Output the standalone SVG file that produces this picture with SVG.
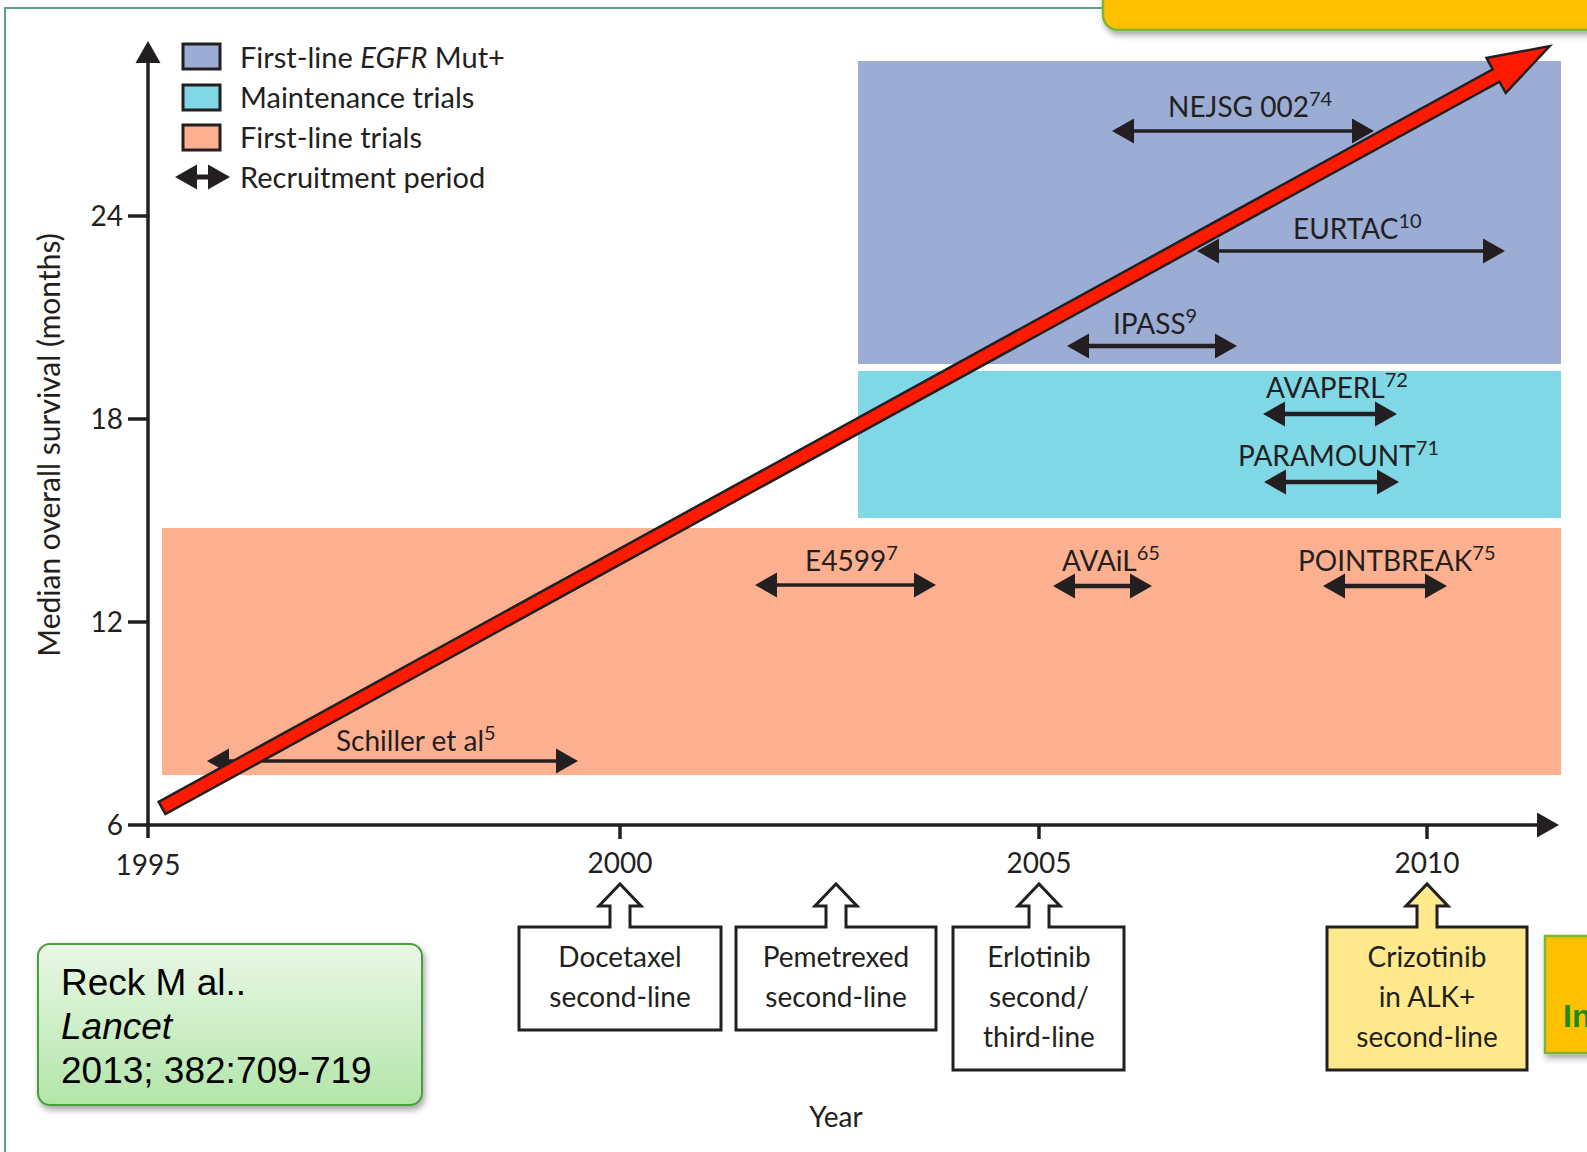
<svg xmlns="http://www.w3.org/2000/svg" width="1587" height="1152" viewBox="0 0 1587 1152">
<defs>
<style>
.t{font-family:Lato,"Open Sans","Liberation Sans",sans-serif;font-size:28px;fill:#231f20}
.lg{font-size:29px}
.yl{font-size:30px}
.c{text-anchor:middle}
.e{text-anchor:end}
.sup{font-size:20px}
.ax{stroke:#231f20;stroke-width:3.5;fill:none}
.ra{stroke:#231f20;stroke-width:3.5;fill:none;marker-start:url(#ah);marker-end:url(#ah)}
.rb{stroke:#231f20;stroke-width:4.5;fill:none;marker-start:url(#ah);marker-end:url(#ah)}
.sw{stroke:#231f20;stroke-width:3}
.bx{stroke:#231f20;stroke-width:3;fill:#ffffff}
.cite{font-family:"Liberation Sans",Arial,sans-serif;font-size:37px;fill:#000}
</style>
<marker id="ah" markerUnits="userSpaceOnUse" markerWidth="24" markerHeight="26" viewBox="0 -13 24 26" refX="0" refY="0" orient="auto-start-reverse">
<path d="M0,-12.5 L22,0 L0,12.5Z" fill="#231f20"/>
</marker>
<linearGradient id="gg" x1="0" y1="0" x2="0" y2="1">
<stop offset="0" stop-color="#eaf8e6"/>
<stop offset="1" stop-color="#b2e5a9"/>
</linearGradient>
<filter id="sh" x="-10%" y="-20%" width="130%" height="150%">
<feDropShadow dx="2" dy="4" stdDeviation="3" flood-color="#000" flood-opacity="0.35"/>
</filter>
</defs>
<rect width="1587" height="1152" fill="#ffffff"/>

<g id="frame">
<path d="M5,1152 L5,8 L1110,8" stroke="#5f9f86" stroke-width="2" fill="none"/>
</g>

<g id="top-banner">
<rect x="1103" y="-30" width="520" height="60" rx="15" fill="#ffc000" stroke="#7db23a" stroke-width="2.5" filter="url(#sh)"/>
</g>

<g id="band-egfr"><rect x="858" y="61" width="703" height="303" fill="#9badd4"/></g>
<g id="band-maintenance"><rect x="858" y="371" width="703" height="147" fill="#80d8e6"/></g>
<g id="band-firstline"><rect x="162" y="528" width="1399" height="247" fill="#fdb08f"/></g>

<g id="legend">
<rect class="sw" x="183" y="44" width="37" height="25" fill="#9badd4"/>
<rect class="sw" x="183" y="85" width="37" height="25" fill="#80d8e6"/>
<rect class="sw" x="183" y="125" width="37" height="25" fill="#fdb08f"/>
<line x1="197" y1="177" x2="208" y2="177" stroke="#231f20" stroke-width="5" marker-start="url(#ah)" marker-end="url(#ah)"/>
<text class="t lg" x="240" y="68">First-line <tspan font-style="italic">EGFR</tspan> Mut+</text>
<text class="t lg" x="240" y="108">Maintenance trials</text>
<text class="t lg" x="240" y="148">First-line trials</text>
<text class="t lg" x="240" y="188">Recruitment period</text>
</g>

<g id="axes">
<line class="ax" x1="148" y1="838" x2="148" y2="63" marker-end="url(#ah)"/>
<line class="ax" x1="128" y1="825" x2="1537" y2="825" marker-end="url(#ah)"/>
<line class="ax" x1="128" y1="216" x2="148" y2="216"/>
<line class="ax" x1="128" y1="419" x2="148" y2="419"/>
<line class="ax" x1="128" y1="622" x2="148" y2="622"/>
<line class="ax" x1="620" y1="825" x2="620" y2="839"/>
<line class="ax" x1="1039" y1="825" x2="1039" y2="839"/>
<line class="ax" x1="1427" y1="825" x2="1427" y2="839"/>
<text class="t e" x="123" y="226">24</text>
<text class="t e" x="123" y="429">18</text>
<text class="t e" x="123" y="632">12</text>
<text class="t e" x="123" y="835">6</text>
<text class="t c" x="148" y="875">1995</text>
<text class="t c" x="620" y="873">2000</text>
<text class="t c" x="1039" y="873">2005</text>
<text class="t c" x="1427" y="873">2010</text>
<text class="t c" x="836" y="1127">Year</text>
<text class="t c yl" transform="translate(60,445) rotate(-90)">Median overall survival (months)</text>
</g>

<g id="trial-labels">
<text class="t" x="1168" y="117">NEJSG 002<tspan class="sup" dy="-11">74</tspan></text>
<text class="t" x="1293" y="239">EURTAC<tspan class="sup" dy="-11">10</tspan></text>
<text class="t" x="1113" y="334">IPASS<tspan class="sup" dy="-11">9</tspan></text>
<text class="t" x="1266" y="398">AVAPERL<tspan class="sup" dy="-11">72</tspan></text>
<text class="t" x="1238" y="466">PARAMOUNT<tspan class="sup" dy="-11">71</tspan></text>
<text class="t" x="805" y="571">E4599<tspan class="sup" dy="-11">7</tspan></text>
<text class="t" x="1062" y="571">AVAiL<tspan class="sup" dy="-11">65</tspan></text>
<text class="t" x="1298" y="571">POINTBREAK<tspan class="sup" dy="-11">75</tspan></text>
<text class="t" x="336" y="751">Schiller et al<tspan class="sup" dy="-11">5</tspan></text>
</g>

<g id="connectors">
<line class="ra" x1="1134" y1="131" x2="1352" y2="131"/>
<line class="ra" x1="1219" y1="251" x2="1483" y2="251"/>
<line class="rb" x1="1089" y1="346" x2="1215" y2="346"/>
<line class="rb" x1="1285" y1="414" x2="1375" y2="414"/>
<line class="rb" x1="1286" y1="482" x2="1377" y2="482"/>
<line class="ra" x1="777" y1="585" x2="914" y2="585"/>
<line class="rb" x1="1075" y1="586" x2="1130" y2="586"/>
<line class="rb" x1="1345" y1="586" x2="1425" y2="586"/>
<line class="ra" x1="229" y1="761" x2="556" y2="761" stroke-width="3"/>
</g>

<g id="trend-arrow">
<polygon transform="translate(162,808) rotate(-28.77)" points="0,-7 1522,-7 1522,-20 1583,0 1522,20 1522,7 0,7" fill="#ff1a00" stroke="#231f20" stroke-width="2.5" stroke-linejoin="miter"/>
</g>

<g id="docetaxel">
<path class="bx" d="M610,927 L610,906 L599,906 L620,884 L641,906 L630,906 L630,927 L721,927 L721,1030 L519,1030 L519,927 Z"/>
<text class="t c" x="620" y="967">Docetaxel</text>
<text class="t c" x="620" y="1007">second-line</text>
</g>
<g id="pemetrexed">
<path class="bx" d="M826,927 L826,906 L815,906 L836,884 L857,906 L846,906 L846,927 L936,927 L936,1030 L736,1030 L736,927 Z"/>
<text class="t c" x="836" y="967">Pemetrexed</text>
<text class="t c" x="836" y="1007">second-line</text>
</g>
<g id="erlotinib">
<path class="bx" d="M1029,927 L1029,906 L1018,906 L1039,884 L1060,906 L1049,906 L1049,927 L1124,927 L1124,1070 L953,1070 L953,927 Z"/>
<text class="t c" x="1039" y="967">Erlotinib</text>
<text class="t c" x="1039" y="1007">second/</text>
<text class="t c" x="1039" y="1047">third-line</text>
</g>
<g id="crizotinib">
<path class="bx" style="fill:#ffe98c" d="M1417,927 L1417,906 L1406,906 L1427,884 L1448,906 L1437,906 L1437,927 L1527,927 L1527,1070 L1327,1070 L1327,927 Z"/>
<text class="t c" x="1427" y="967">Crizotinib</text>
<text class="t c" x="1427" y="1007">in ALK+</text>
<text class="t c" x="1427" y="1047">second-line</text>
</g>

<g id="citation">
<rect x="38" y="944" width="384" height="161" rx="12" fill="url(#gg)" stroke="#4c9e3c" stroke-width="2" filter="url(#sh)"/>
<text class="cite" x="61" y="995">Reck M al..</text>
<text class="cite" x="61" y="1039" font-style="italic">Lancet</text>
<text class="cite" x="61" y="1083">2013; 382:709-719</text>
</g>

<g id="side-banner">
<rect x="1545" y="936" width="70" height="117" fill="#ffc000" stroke="#7db23a" stroke-width="2.5" filter="url(#sh)"/>
<text x="1563" y="1027" font-family="'Liberation Sans',Arial,sans-serif" font-size="32" font-weight="bold" fill="#1a8c1a">In</text>
</g>
</svg>
